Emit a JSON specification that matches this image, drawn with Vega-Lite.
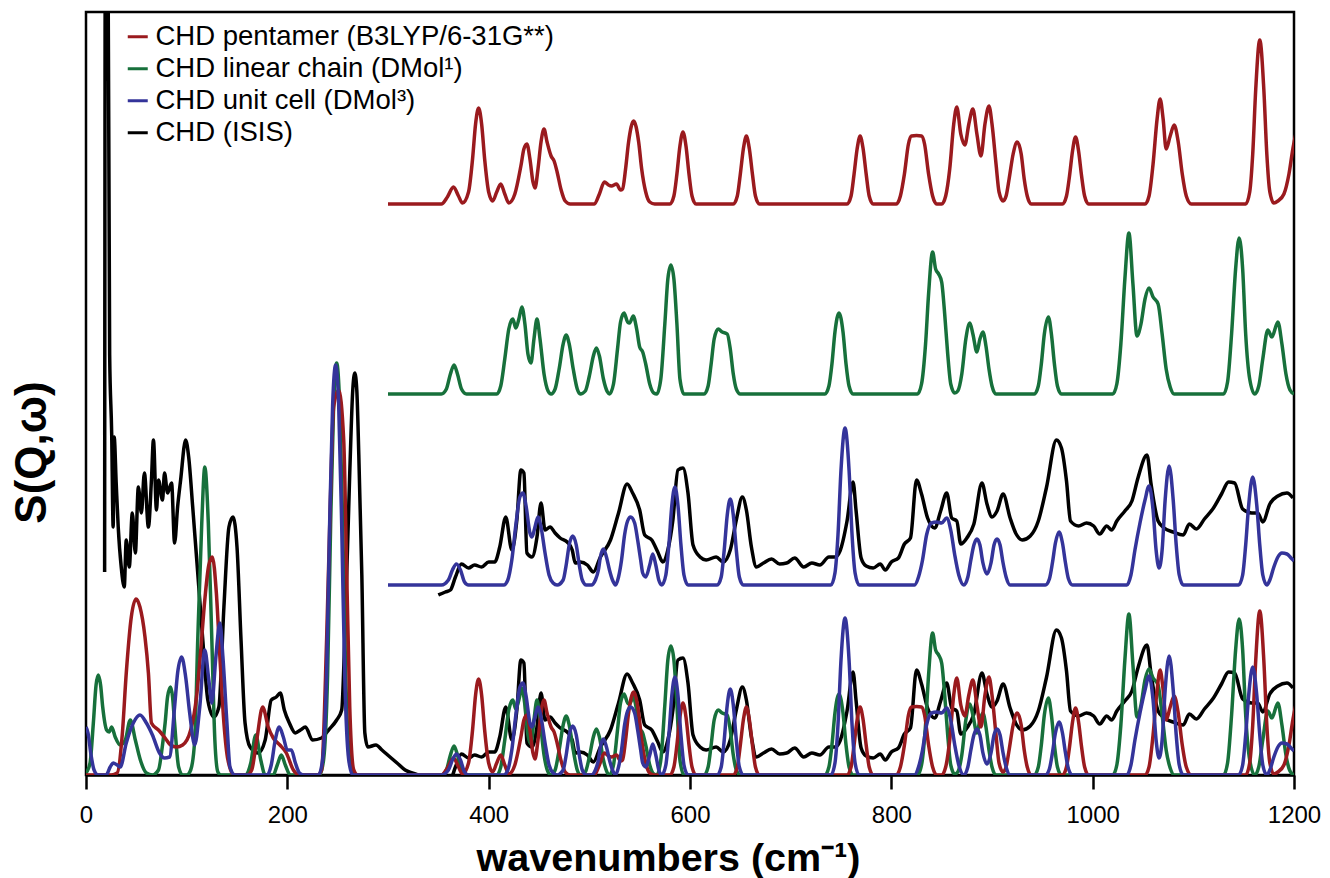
{
"$schema": "https://vega.github.io/schema/vega-lite/v6.json",
"width": 1208, "height": 763, "autosize": "none",
"padding": {"left": 86, "top": 12, "right": 36, "bottom": 103},
"background": "white",
"config": {"font": "Liberation Sans", "view": {"stroke": "black", "strokeWidth": 2.5}, "axis": {"grid": false},
  "axisX": {"ticks": true, "tickColor": "black", "tickWidth": 2.5, "tickSize": 14, "domainColor": "black", "domainWidth": 2.5,
            "labelFontSize": 24, "labelColor": "black", "labelPadding": 14, "labelFlush": false,
            "titleFontSize": 39.5, "titleFontWeight": "bold", "titleColor": "black", "titleX": 582, "titleY": 95, "titleBaseline": "alphabetic"}},
"data": {"values": [
{"s":"I","g":"IL","x":18.5,"y":203},{"s":"I","g":"IL","x":19.3,"y":900},{"s":"I","g":"IL","x":21.5,"y":900},{"s":"I","g":"IL","x":23.5,"y":420},{"s":"I","g":"IL","x":25.5,"y":342},{"s":"I","g":"IL","x":27,"y":248},{"s":"I","g":"IL","x":28,"y":338},{"s":"I","g":"IL","x":30,"y":292},{"s":"I","g":"IL","x":32,"y":248},{"s":"I","g":"IL","x":35,"y":208},{"s":"I","g":"IL","x":38,"y":188},{"s":"I","g":"IL","x":40,"y":235},{"s":"I","g":"IL","x":43,"y":208},{"s":"I","g":"IL","x":46,"y":262},{"s":"I","g":"IL","x":49,"y":222},{"s":"I","g":"IL","x":52,"y":288},{"s":"I","g":"IL","x":55,"y":262},{"s":"I","g":"IL","x":58,"y":302},{"s":"I","g":"IL","x":62,"y":248},{"s":"I","g":"IL","x":65,"y":295},{"s":"I","g":"IL","x":67,"y":335},{"s":"I","g":"IL","x":70,"y":265},{"s":"I","g":"IL","x":72,"y":295},{"s":"I","g":"IL","x":76,"y":275},{"s":"I","g":"IL","x":78,"y":302},{"s":"I","g":"IL","x":81,"y":282},{"s":"I","g":"IL","x":85,"y":292},{"s":"I","g":"IL","x":88,"y":232},{"s":"I","g":"IL","x":91,"y":268},{"s":"I","g":"IL","x":94,"y":295},{"s":"I","g":"IL","x":99,"y":335},{"s":"I","g":"IL","x":102,"y":318},{"s":"I","g":"IL","x":106,"y":268},{"s":"I","g":"IL","x":111,"y":202},{"s":"I","g":"IL","x":116,"y":135},{"s":"I","g":"IL","x":121,"y":75},{"s":"I","g":"IL","x":127,"y":58},{"s":"I","g":"IL","x":132,"y":68},{"s":"I","g":"IL","x":137,"y":168},{"s":"I","g":"IL","x":142,"y":248},{"s":"I","g":"IL","x":146,"y":258},{"s":"I","g":"IL","x":150,"y":228},{"s":"I","g":"IL","x":154,"y":135},{"s":"I","g":"IL","x":158,"y":52},{"s":"I","g":"IL","x":163,"y":28},{"s":"I","g":"IL","x":171,"y":22},{"s":"I","g":"IL","x":178,"y":35},{"s":"I","g":"IL","x":184,"y":75},{"s":"I","g":"IL","x":189,"y":78},{"s":"I","g":"IL","x":193,"y":82},{"s":"I","g":"IL","x":197,"y":65},{"s":"I","g":"IL","x":202,"y":52},{"s":"I","g":"IL","x":208,"y":42},{"s":"I","g":"IL","x":213,"y":45},{"s":"I","g":"IL","x":218,"y":48},{"s":"I","g":"IL","x":225,"y":35},{"s":"I","g":"IL","x":234,"y":37},{"s":"I","g":"IL","x":241,"y":45},{"s":"I","g":"IL","x":249,"y":55},{"s":"I","g":"IL","x":254,"y":65},{"s":"I","g":"IL","x":257,"y":135},{"s":"I","g":"IL","x":262,"y":302},{"s":"I","g":"IL","x":265,"y":385},{"s":"I","g":"IL","x":267,"y":402},{"s":"I","g":"IL","x":269,"y":385},{"s":"I","g":"IL","x":271,"y":320},{"s":"I","g":"IL","x":274,"y":200},{"s":"I","g":"IL","x":277,"y":42},{"s":"I","g":"IL","x":280,"y":28},{"s":"I","g":"IL","x":288,"y":30},{"s":"I","g":"IL","x":294,"y":25},{"s":"I","g":"IL","x":302,"y":18},{"s":"I","g":"IL","x":309,"y":12},{"s":"I","g":"IL","x":317,"y":5},{"s":"I","g":"IL","x":324,"y":2},{"s":"I","g":"IL","x":330,"y":0},
{"s":"I","g":"IH","x":350,"y":-10},{"s":"I","g":"IH","x":357,"y":-7},{"s":"I","g":"IH","x":362,"y":-5},{"s":"I","g":"IH","x":367,"y":8},{"s":"I","g":"IH","x":373,"y":21},{"s":"I","g":"IH","x":380,"y":17},{"s":"I","g":"IH","x":386,"y":20},{"s":"I","g":"IH","x":393,"y":18},{"s":"I","g":"IH","x":400,"y":23},{"s":"I","g":"IH","x":406,"y":23},{"s":"I","g":"IH","x":411,"y":38},{"s":"I","g":"IH","x":417,"y":68},{"s":"I","g":"IH","x":423,"y":35},{"s":"I","g":"IH","x":428,"y":65},{"s":"I","g":"IH","x":432,"y":115},{"s":"I","g":"IH","x":435,"y":112},{"s":"I","g":"IH","x":438,"y":32},{"s":"I","g":"IH","x":443,"y":28},{"s":"I","g":"IH","x":448,"y":48},{"s":"I","g":"IH","x":452,"y":82},{"s":"I","g":"IH","x":456,"y":55},{"s":"I","g":"IH","x":461,"y":58},{"s":"I","g":"IH","x":466,"y":52},{"s":"I","g":"IH","x":471,"y":47},{"s":"I","g":"IH","x":478,"y":43},{"s":"I","g":"IH","x":483,"y":35},{"s":"I","g":"IH","x":486,"y":22},{"s":"I","g":"IH","x":491,"y":23},{"s":"I","g":"IH","x":498,"y":20},{"s":"I","g":"IH","x":504,"y":13},{"s":"I","g":"IH","x":511,"y":28},{"s":"I","g":"IH","x":521,"y":45},{"s":"I","g":"IH","x":529,"y":72},{"s":"I","g":"IH","x":537.5,"y":101},{"s":"I","g":"IH","x":543,"y":92},{"s":"I","g":"IH","x":550,"y":75},{"s":"I","g":"IH","x":555,"y":50},{"s":"I","g":"IH","x":562,"y":45},{"s":"I","g":"IH","x":568,"y":33},{"s":"I","g":"IH","x":573,"y":23},{"s":"I","g":"IH","x":578,"y":35},{"s":"I","g":"IH","x":583,"y":65},{"s":"I","g":"IH","x":588,"y":115},{"s":"I","g":"IH","x":593,"y":117},{"s":"I","g":"IH","x":598,"y":92},{"s":"I","g":"IH","x":603,"y":40},{"s":"I","g":"IH","x":610,"y":28},{"s":"I","g":"IH","x":616,"y":25},{"s":"I","g":"IH","x":626,"y":28},{"s":"I","g":"IH","x":633,"y":23},{"s":"I","g":"IH","x":640,"y":35},{"s":"I","g":"IH","x":646,"y":65},{"s":"I","g":"IH","x":652,"y":88},{"s":"I","g":"IH","x":656,"y":75},{"s":"I","g":"IH","x":661,"y":38},{"s":"I","g":"IH","x":666,"y":18},{"s":"I","g":"IH","x":673,"y":22},{"s":"I","g":"IH","x":681,"y":26},{"s":"I","g":"IH","x":689,"y":21},{"s":"I","g":"IH","x":696,"y":22},{"s":"I","g":"IH","x":704,"y":27},{"s":"I","g":"IH","x":713,"y":18},{"s":"I","g":"IH","x":721,"y":22},{"s":"I","g":"IH","x":729,"y":20},{"s":"I","g":"IH","x":738,"y":28},{"s":"I","g":"IH","x":744,"y":28},{"s":"I","g":"IH","x":749,"y":34},{"s":"I","g":"IH","x":756,"y":64},{"s":"I","g":"IH","x":762,"y":103},{"s":"I","g":"IH","x":765,"y":74},{"s":"I","g":"IH","x":770,"y":27},{"s":"I","g":"IH","x":775,"y":19},{"s":"I","g":"IH","x":782,"y":17},{"s":"I","g":"IH","x":789,"y":21},{"s":"I","g":"IH","x":794,"y":15},{"s":"I","g":"IH","x":800,"y":23},{"s":"I","g":"IH","x":807,"y":27},{"s":"I","g":"IH","x":813,"y":41},{"s":"I","g":"IH","x":819,"y":47},{"s":"I","g":"IH","x":825,"y":105},{"s":"I","g":"IH","x":830,"y":91},{"s":"I","g":"IH","x":836,"y":67},{"s":"I","g":"IH","x":843,"y":57},{"s":"I","g":"IH","x":849,"y":74},{"s":"I","g":"IH","x":855,"y":92},{"s":"I","g":"IH","x":860,"y":67},{"s":"I","g":"IH","x":865,"y":64},{"s":"I","g":"IH","x":869,"y":41},{"s":"I","g":"IH","x":875,"y":47},{"s":"I","g":"IH","x":882,"y":61},{"s":"I","g":"IH","x":890,"y":102},{"s":"I","g":"IH","x":895,"y":81},{"s":"I","g":"IH","x":900,"y":68},{"s":"I","g":"IH","x":905,"y":74},{"s":"I","g":"IH","x":911,"y":91},{"s":"I","g":"IH","x":918,"y":67},{"s":"I","g":"IH","x":924,"y":51},{"s":"I","g":"IH","x":930,"y":45},{"s":"I","g":"IH","x":938,"y":49},{"s":"I","g":"IH","x":946,"y":64},{"s":"I","g":"IH","x":954,"y":97},{"s":"I","g":"IH","x":964,"y":145},{"s":"I","g":"IH","x":969,"y":137},{"s":"I","g":"IH","x":974,"y":104},{"s":"I","g":"IH","x":978,"y":64},{"s":"I","g":"IH","x":986,"y":59},{"s":"I","g":"IH","x":994,"y":62},{"s":"I","g":"IH","x":1001,"y":59},{"s":"I","g":"IH","x":1007,"y":51},{"s":"I","g":"IH","x":1014,"y":59},{"s":"I","g":"IH","x":1019,"y":55},{"s":"I","g":"IH","x":1024,"y":64},{"s":"I","g":"IH","x":1032,"y":74},{"s":"I","g":"IH","x":1039,"y":84},{"s":"I","g":"IH","x":1045,"y":107},{"s":"I","g":"IH","x":1054,"y":130},{"s":"I","g":"IH","x":1058,"y":101},{"s":"I","g":"IH","x":1065,"y":64},{"s":"I","g":"IH","x":1071,"y":57},{"s":"I","g":"IH","x":1080,"y":53},{"s":"I","g":"IH","x":1090,"y":50},{"s":"I","g":"IH","x":1096,"y":61},{"s":"I","g":"IH","x":1103,"y":56},{"s":"I","g":"IH","x":1111,"y":66},{"s":"I","g":"IH","x":1120,"y":77},{"s":"I","g":"IH","x":1128,"y":91},{"s":"I","g":"IH","x":1135,"y":103},{"s":"I","g":"IH","x":1141,"y":102},{"s":"I","g":"IH","x":1149,"y":76},{"s":"I","g":"IH","x":1158,"y":72},{"s":"I","g":"IH","x":1164,"y":72},{"s":"I","g":"IH","x":1169,"y":63},{"s":"I","g":"IH","x":1176,"y":81},{"s":"I","g":"IH","x":1184,"y":89},{"s":"I","g":"IH","x":1193,"y":92},{"s":"I","g":"IH","x":1199,"y":87},
{"s":"L","x":0,"y":2},{"s":"L","x":4,"y":12},{"s":"L","x":7.3,"y":52},{"s":"L","x":10,"y":90},{"s":"L","x":12.2,"y":100},{"s":"L","x":14.5,"y":90},{"s":"L","x":16.6,"y":68},{"s":"L","x":20.5,"y":45},{"s":"L","x":23,"y":43},{"s":"L","x":25.5,"y":48},{"s":"L","x":29,"y":38},{"s":"L","x":34,"y":30},{"s":"L","x":39,"y":35},{"s":"L","x":44,"y":55},{"s":"L","x":49,"y":35},{"s":"L","x":54,"y":15},{"s":"L","x":60,"y":2},{"s":"L","x":66,"y":0},{"s":"L","x":72,"y":5},{"s":"L","x":76,"y":30},{"s":"L","x":78.6,"y":52},{"s":"L","x":81,"y":78},{"s":"L","x":84,"y":88},{"s":"L","x":86,"y":78},{"s":"L","x":88,"y":52},{"s":"L","x":92,"y":8},{"s":"L","x":96,"y":0},{"s":"L","x":100,"y":0},{"s":"L","x":104,"y":5},{"s":"L","x":108,"y":35},{"s":"L","x":111,"y":135},{"s":"L","x":115,"y":252},{"s":"L","x":118,"y":308},{"s":"L","x":121.5,"y":252},{"s":"L","x":125,"y":135},{"s":"L","x":128,"y":35},{"s":"L","x":131,"y":3},{"s":"L","x":134,"y":0},{"s":"L","x":158,"y":0},{"s":"L","x":163.7,"y":12},{"s":"L","x":168.6,"y":40},{"s":"L","x":173.6,"y":15},{"s":"L","x":178,"y":0},{"s":"L","x":186,"y":0},{"s":"L","x":190,"y":10},{"s":"L","x":194,"y":20},{"s":"L","x":198,"y":10},{"s":"L","x":203,"y":0},{"s":"L","x":232,"y":0},{"s":"L","x":236,"y":15},{"s":"L","x":240,"y":100},{"s":"L","x":243,"y":250},{"s":"L","x":246,"y":370},{"s":"L","x":249,"y":412},{"s":"L","x":252,"y":370},{"s":"L","x":255,"y":250},{"s":"L","x":258,"y":100},{"s":"L","x":262,"y":15},{"s":"L","x":266,"y":0},
{"s":"L","x":300,"y":0},{"s":"L","x":353,"y":0},{"s":"L","x":358,"y":5},{"s":"L","x":362,"y":20},{"s":"L","x":365.6,"y":29},{"s":"L","x":369,"y":20},{"s":"L","x":373,"y":5},{"s":"L","x":378,"y":0},{"s":"L","x":408,"y":0},{"s":"L","x":412,"y":8},{"s":"L","x":416,"y":35},{"s":"L","x":420,"y":65},{"s":"L","x":424,"y":75},{"s":"L","x":427,"y":66},{"s":"L","x":430,"y":75},{"s":"L","x":433,"y":87},{"s":"L","x":436,"y":70},{"s":"L","x":439,"y":40},{"s":"L","x":442,"y":31},{"s":"L","x":445,"y":55},{"s":"L","x":448,"y":75},{"s":"L","x":451,"y":55},{"s":"L","x":455,"y":20},{"s":"L","x":459,"y":3},{"s":"L","x":462,"y":0},{"s":"L","x":466,"y":5},{"s":"L","x":470,"y":25},{"s":"L","x":474,"y":50},{"s":"L","x":477,"y":59},{"s":"L","x":480,"y":50},{"s":"L","x":484,"y":25},{"s":"L","x":488,"y":5},{"s":"L","x":491,"y":0},{"s":"L","x":496,"y":3},{"s":"L","x":500,"y":18},{"s":"L","x":504,"y":38},{"s":"L","x":507,"y":46},{"s":"L","x":510,"y":38},{"s":"L","x":514,"y":15},{"s":"L","x":518,"y":2},{"s":"L","x":520,"y":0},{"s":"L","x":524,"y":10},{"s":"L","x":528,"y":45},{"s":"L","x":531,"y":72},{"s":"L","x":534.5,"y":81},{"s":"L","x":538,"y":72},{"s":"L","x":540,"y":71},{"s":"L","x":543.6,"y":78},{"s":"L","x":547,"y":65},{"s":"L","x":550,"y":47},{"s":"L","x":553,"y":42},{"s":"L","x":556,"y":30},{"s":"L","x":560,"y":10},{"s":"L","x":564,"y":1},{"s":"L","x":567,"y":0},{"s":"L","x":571,"y":15},{"s":"L","x":575,"y":70},{"s":"L","x":578,"y":115},{"s":"L","x":581,"y":129},{"s":"L","x":584,"y":115},{"s":"L","x":587,"y":70},{"s":"L","x":590,"y":15},{"s":"L","x":594,"y":0},{"s":"L","x":614,"y":0},{"s":"L","x":618,"y":8},{"s":"L","x":621,"y":30},{"s":"L","x":624,"y":55},{"s":"L","x":628,"y":65},{"s":"L","x":632,"y":62},{"s":"L","x":637,"y":60},{"s":"L","x":640,"y":45},{"s":"L","x":643,"y":20},{"s":"L","x":646,"y":5},{"s":"L","x":650,"y":0},{"s":"L","x":734,"y":0},{"s":"L","x":738,"y":8},{"s":"L","x":741,"y":30},{"s":"L","x":744,"y":62},{"s":"L","x":748,"y":81},{"s":"L","x":752,"y":62},{"s":"L","x":755,"y":30},{"s":"L","x":758,"y":8},{"s":"L","x":762,"y":0},{"s":"L","x":826,"y":0},{"s":"L","x":830,"y":10},{"s":"L","x":834,"y":50},{"s":"L","x":837,"y":100},{"s":"L","x":841,"y":142},{"s":"L","x":844,"y":125},{"s":"L","x":847,"y":120},{"s":"L","x":850,"y":112},{"s":"L","x":853,"y":80},{"s":"L","x":856,"y":40},{"s":"L","x":859,"y":10},{"s":"L","x":863,"y":1},{"s":"L","x":866,"y":3},{"s":"L","x":870,"y":20},{"s":"L","x":874,"y":55},{"s":"L","x":878,"y":71},{"s":"L","x":881,"y":60},{"s":"L","x":885,"y":42},{"s":"L","x":888,"y":55},{"s":"L","x":891,"y":62},{"s":"L","x":894,"y":48},{"s":"L","x":897,"y":25},{"s":"L","x":900,"y":8},{"s":"L","x":904,"y":0},{"s":"L","x":942,"y":0},{"s":"L","x":946,"y":8},{"s":"L","x":949,"y":30},{"s":"L","x":952,"y":60},{"s":"L","x":956,"y":77},{"s":"L","x":959,"y":60},{"s":"L","x":962,"y":30},{"s":"L","x":965,"y":8},{"s":"L","x":969,"y":0},{"s":"L","x":1020,"y":0},{"s":"L","x":1024,"y":10},{"s":"L","x":1028,"y":50},{"s":"L","x":1032,"y":115},{"s":"L","x":1036,"y":161},{"s":"L","x":1040,"y":110},{"s":"L","x":1044,"y":58},{"s":"L","x":1048,"y":70},{"s":"L","x":1052,"y":95},{"s":"L","x":1056,"y":106},{"s":"L","x":1060,"y":97},{"s":"L","x":1065,"y":90},{"s":"L","x":1069,"y":60},{"s":"L","x":1073,"y":25},{"s":"L","x":1077,"y":7},{"s":"L","x":1081,"y":0},{"s":"L","x":1130,"y":0},{"s":"L","x":1134,"y":12},{"s":"L","x":1138,"y":60},{"s":"L","x":1142,"y":125},{"s":"L","x":1145.5,"y":156},{"s":"L","x":1149,"y":125},{"s":"L","x":1152,"y":60},{"s":"L","x":1156,"y":15},{"s":"L","x":1161,"y":0},{"s":"L","x":1165,"y":8},{"s":"L","x":1169,"y":35},{"s":"L","x":1174,"y":64},{"s":"L","x":1178,"y":57},{"s":"L","x":1184,"y":72},{"s":"L","x":1188,"y":50},{"s":"L","x":1192,"y":20},{"s":"L","x":1196,"y":4},{"s":"L","x":1200,"y":0},
{"s":"P","x":0,"y":0},{"s":"P","x":25,"y":0},{"s":"P","x":31,"y":2},{"s":"P","x":36,"y":40},{"s":"P","x":40,"y":102},{"s":"P","x":45,"y":158},{"s":"P","x":49.7,"y":176},{"s":"P","x":53.6,"y":168},{"s":"P","x":58.6,"y":138},{"s":"P","x":62,"y":102},{"s":"P","x":65,"y":52},{"s":"P","x":72,"y":45},{"s":"P","x":78.6,"y":37},{"s":"P","x":84,"y":30},{"s":"P","x":90,"y":28},{"s":"P","x":96,"y":30},{"s":"P","x":104,"y":45},{"s":"P","x":110,"y":80},{"s":"P","x":114,"y":125},{"s":"P","x":118,"y":175},{"s":"P","x":122,"y":210},{"s":"P","x":125.5,"y":218},{"s":"P","x":129.5,"y":182},{"s":"P","x":133,"y":118},{"s":"P","x":137,"y":52},{"s":"P","x":141,"y":15},{"s":"P","x":147,"y":0},{"s":"P","x":160,"y":0},{"s":"P","x":164.6,"y":5},{"s":"P","x":169.6,"y":35},{"s":"P","x":175.5,"y":68},{"s":"P","x":181,"y":48},{"s":"P","x":186,"y":37},{"s":"P","x":192.6,"y":30},{"s":"P","x":199,"y":22},{"s":"P","x":206,"y":5},{"s":"P","x":212,"y":0},{"s":"P","x":230,"y":0},{"s":"P","x":234,"y":5},{"s":"P","x":239,"y":135},{"s":"P","x":242.6,"y":268},{"s":"P","x":246,"y":368},{"s":"P","x":251,"y":385},{"s":"P","x":256,"y":335},{"s":"P","x":259,"y":202},{"s":"P","x":262,"y":68},{"s":"P","x":266,"y":5},{"s":"P","x":270,"y":0},
{"s":"P","x":300,"y":0},{"s":"P","x":353,"y":0},{"s":"P","x":359,"y":7},{"s":"P","x":365,"y":17},{"s":"P","x":370,"y":8},{"s":"P","x":374,"y":1},{"s":"P","x":380,"y":12},{"s":"P","x":384,"y":45},{"s":"P","x":387,"y":80},{"s":"P","x":390,"y":96},{"s":"P","x":393,"y":80},{"s":"P","x":396,"y":45},{"s":"P","x":400,"y":12},{"s":"P","x":404,"y":3},{"s":"P","x":408,"y":12},{"s":"P","x":412,"y":20},{"s":"P","x":416,"y":10},{"s":"P","x":420,"y":1},{"s":"P","x":426,"y":10},{"s":"P","x":432,"y":38},{"s":"P","x":435,"y":55},{"s":"P","x":438,"y":60},{"s":"P","x":441,"y":45},{"s":"P","x":444,"y":22},{"s":"P","x":446,"y":16},{"s":"P","x":449,"y":35},{"s":"P","x":452,"y":62},{"s":"P","x":455,"y":75},{"s":"P","x":458,"y":62},{"s":"P","x":462,"y":48},{"s":"P","x":465,"y":43},{"s":"P","x":468,"y":32},{"s":"P","x":472,"y":14},{"s":"P","x":476,"y":3},{"s":"P","x":481,"y":0},{"s":"P","x":505,"y":0},{"s":"P","x":510,"y":10},{"s":"P","x":515,"y":22},{"s":"P","x":519,"y":19},{"s":"P","x":522,"y":18},{"s":"P","x":527,"y":20},{"s":"P","x":531,"y":14},{"s":"P","x":533,"y":15},{"s":"P","x":536,"y":35},{"s":"P","x":539,"y":62},{"s":"P","x":544,"y":83},{"s":"P","x":549,"y":62},{"s":"P","x":552,"y":35},{"s":"P","x":556,"y":12},{"s":"P","x":560,"y":2},{"s":"P","x":565,"y":0},{"s":"P","x":580,"y":0},{"s":"P","x":584,"y":8},{"s":"P","x":587,"y":30},{"s":"P","x":590,"y":58},{"s":"P","x":593,"y":72},{"s":"P","x":596,"y":58},{"s":"P","x":599,"y":30},{"s":"P","x":602,"y":8},{"s":"P","x":606,"y":0},{"s":"P","x":643,"y":0},{"s":"P","x":647,"y":8},{"s":"P","x":650,"y":30},{"s":"P","x":653,"y":55},{"s":"P","x":656,"y":68},{"s":"P","x":659,"y":55},{"s":"P","x":662,"y":30},{"s":"P","x":665,"y":8},{"s":"P","x":669,"y":0},{"s":"P","x":756,"y":0},{"s":"P","x":760,"y":8},{"s":"P","x":763,"y":30},{"s":"P","x":766,"y":55},{"s":"P","x":769,"y":68},{"s":"P","x":772,"y":55},{"s":"P","x":775,"y":30},{"s":"P","x":778,"y":8},{"s":"P","x":782,"y":0},{"s":"P","x":805,"y":0},{"s":"P","x":809,"y":8},{"s":"P","x":813,"y":30},{"s":"P","x":817,"y":60},{"s":"P","x":820,"y":68},{"s":"P","x":825,"y":68.5},{"s":"P","x":830,"y":68},{"s":"P","x":833,"y":60},{"s":"P","x":837,"y":30},{"s":"P","x":841,"y":8},{"s":"P","x":845,"y":0},{"s":"P","x":850,"y":0},{"s":"P","x":854,"y":8},{"s":"P","x":858,"y":35},{"s":"P","x":862,"y":80},{"s":"P","x":865,"y":97},{"s":"P","x":869,"y":70},{"s":"P","x":873,"y":59},{"s":"P","x":877,"y":80},{"s":"P","x":881,"y":95},{"s":"P","x":885,"y":70},{"s":"P","x":889,"y":48},{"s":"P","x":893,"y":80},{"s":"P","x":897,"y":98},{"s":"P","x":900,"y":80},{"s":"P","x":904,"y":40},{"s":"P","x":907,"y":12},{"s":"P","x":911,"y":3},{"s":"P","x":914,"y":8},{"s":"P","x":917,"y":25},{"s":"P","x":921,"y":50},{"s":"P","x":925,"y":62},{"s":"P","x":929,"y":50},{"s":"P","x":932,"y":25},{"s":"P","x":935,"y":8},{"s":"P","x":939,"y":0},{"s":"P","x":970,"y":0},{"s":"P","x":974,"y":8},{"s":"P","x":977,"y":28},{"s":"P","x":980,"y":53},{"s":"P","x":983,"y":67},{"s":"P","x":986,"y":53},{"s":"P","x":989,"y":28},{"s":"P","x":992,"y":8},{"s":"P","x":996,"y":0},{"s":"P","x":1052,"y":0},{"s":"P","x":1056,"y":8},{"s":"P","x":1060,"y":40},{"s":"P","x":1064,"y":85},{"s":"P","x":1067,"y":105},{"s":"P","x":1070,"y":85},{"s":"P","x":1073,"y":55},{"s":"P","x":1077,"y":68},{"s":"P","x":1081,"y":79},{"s":"P","x":1085,"y":62},{"s":"P","x":1089,"y":30},{"s":"P","x":1093,"y":8},{"s":"P","x":1098,"y":0},{"s":"P","x":1152,"y":0},{"s":"P","x":1156,"y":12},{"s":"P","x":1159,"y":50},{"s":"P","x":1162,"y":115},{"s":"P","x":1166,"y":164},{"s":"P","x":1170,"y":115},{"s":"P","x":1173,"y":50},{"s":"P","x":1176,"y":12},{"s":"P","x":1180,"y":1},{"s":"P","x":1184,"y":3},{"s":"P","x":1190,"y":10},{"s":"P","x":1195,"y":30},{"s":"P","x":1199,"y":56},{"s":"P","x":1203,"y":75},
{"s":"U","x":0,"y":48},{"s":"U","x":2,"y":42},{"s":"U","x":5,"y":20},{"s":"U","x":8,"y":5},{"s":"U","x":12,"y":0},{"s":"U","x":20,"y":0},{"s":"U","x":24,"y":8},{"s":"U","x":27,"y":12},{"s":"U","x":31,"y":10},{"s":"U","x":34,"y":8},{"s":"U","x":40,"y":32},{"s":"U","x":47,"y":52},{"s":"U","x":53.6,"y":60},{"s":"U","x":60,"y":52},{"s":"U","x":66,"y":40},{"s":"U","x":73,"y":22},{"s":"U","x":78,"y":17},{"s":"U","x":83,"y":18},{"s":"U","x":88,"y":68},{"s":"U","x":91,"y":102},{"s":"U","x":95,"y":118},{"s":"U","x":99,"y":98},{"s":"U","x":103,"y":62},{"s":"U","x":108,"y":30},{"s":"U","x":113,"y":68},{"s":"U","x":118,"y":125},{"s":"U","x":122,"y":95},{"s":"U","x":125,"y":72},{"s":"U","x":129,"y":118},{"s":"U","x":133,"y":152},{"s":"U","x":136,"y":118},{"s":"U","x":140,"y":52},{"s":"U","x":143,"y":8},{"s":"U","x":148,"y":0},{"s":"U","x":180,"y":0},{"s":"U","x":184,"y":10},{"s":"U","x":188,"y":35},{"s":"U","x":192,"y":48},{"s":"U","x":196,"y":38},{"s":"U","x":200,"y":25},{"s":"U","x":204,"y":25},{"s":"U","x":208,"y":12},{"s":"U","x":212,"y":2},{"s":"U","x":216,"y":0},{"s":"U","x":231,"y":0},{"s":"U","x":235,"y":15},{"s":"U","x":239,"y":100},{"s":"U","x":242,"y":250},{"s":"U","x":245,"y":370},{"s":"U","x":248,"y":410},{"s":"U","x":251,"y":370},{"s":"U","x":254,"y":250},{"s":"U","x":257,"y":100},{"s":"U","x":261,"y":15},{"s":"U","x":265,"y":0},
{"s":"U","x":300,"y":0},{"s":"U","x":353,"y":0},{"s":"U","x":360,"y":5},{"s":"U","x":364,"y":15},{"s":"U","x":368,"y":21},{"s":"U","x":372,"y":15},{"s":"U","x":376,"y":3},{"s":"U","x":380,"y":0},{"s":"U","x":415,"y":0},{"s":"U","x":419,"y":5},{"s":"U","x":423,"y":25},{"s":"U","x":427,"y":60},{"s":"U","x":431,"y":88},{"s":"U","x":434,"y":92},{"s":"U","x":437,"y":80},{"s":"U","x":441,"y":52},{"s":"U","x":443,"y":48},{"s":"U","x":446,"y":58},{"s":"U","x":449,"y":68},{"s":"U","x":452,"y":58},{"s":"U","x":456,"y":32},{"s":"U","x":460,"y":10},{"s":"U","x":464,"y":2},{"s":"U","x":468,"y":0},{"s":"U","x":474,"y":5},{"s":"U","x":477,"y":20},{"s":"U","x":480,"y":40},{"s":"U","x":483.5,"y":49},{"s":"U","x":487,"y":40},{"s":"U","x":490,"y":20},{"s":"U","x":493,"y":5},{"s":"U","x":497,"y":0},{"s":"U","x":502,"y":0},{"s":"U","x":506,"y":5},{"s":"U","x":509,"y":15},{"s":"U","x":511,"y":28},{"s":"U","x":514,"y":36},{"s":"U","x":517,"y":28},{"s":"U","x":520,"y":15},{"s":"U","x":523,"y":5},{"s":"U","x":526,"y":0},{"s":"U","x":529,"y":8},{"s":"U","x":532,"y":25},{"s":"U","x":535,"y":50},{"s":"U","x":538,"y":64},{"s":"U","x":541,"y":68},{"s":"U","x":545,"y":62},{"s":"U","x":548,"y":45},{"s":"U","x":551,"y":25},{"s":"U","x":553,"y":12},{"s":"U","x":556,"y":8},{"s":"U","x":560,"y":20},{"s":"U","x":563,"y":31},{"s":"U","x":566,"y":20},{"s":"U","x":569,"y":5},{"s":"U","x":572,"y":0},{"s":"U","x":576,"y":10},{"s":"U","x":579,"y":40},{"s":"U","x":582,"y":80},{"s":"U","x":585,"y":98},{"s":"U","x":588,"y":80},{"s":"U","x":591,"y":40},{"s":"U","x":594,"y":10},{"s":"U","x":598,"y":0},{"s":"U","x":627,"y":0},{"s":"U","x":631,"y":8},{"s":"U","x":634,"y":35},{"s":"U","x":637,"y":70},{"s":"U","x":640,"y":86},{"s":"U","x":643,"y":70},{"s":"U","x":646,"y":35},{"s":"U","x":649,"y":8},{"s":"U","x":653,"y":0},{"s":"U","x":740,"y":0},{"s":"U","x":744,"y":12},{"s":"U","x":747,"y":50},{"s":"U","x":750,"y":115},{"s":"U","x":754,"y":157},{"s":"U","x":758,"y":115},{"s":"U","x":761,"y":50},{"s":"U","x":764,"y":12},{"s":"U","x":768,"y":0},{"s":"U","x":823,"y":0},{"s":"U","x":827,"y":8},{"s":"U","x":831,"y":25},{"s":"U","x":835,"y":50},{"s":"U","x":840,"y":62},{"s":"U","x":845,"y":63},{"s":"U","x":850,"y":62},{"s":"U","x":855,"y":67},{"s":"U","x":859,"y":55},{"s":"U","x":863,"y":30},{"s":"U","x":867,"y":10},{"s":"U","x":872,"y":0},{"s":"U","x":876,"y":8},{"s":"U","x":879,"y":25},{"s":"U","x":882,"y":40},{"s":"U","x":885,"y":46},{"s":"U","x":888,"y":40},{"s":"U","x":891,"y":22},{"s":"U","x":895,"y":11},{"s":"U","x":899,"y":22},{"s":"U","x":902,"y":40},{"s":"U","x":905,"y":46},{"s":"U","x":908,"y":40},{"s":"U","x":911,"y":22},{"s":"U","x":914,"y":8},{"s":"U","x":918,"y":0},{"s":"U","x":953,"y":0},{"s":"U","x":957,"y":6},{"s":"U","x":960,"y":22},{"s":"U","x":963,"y":42},{"s":"U","x":966.6,"y":53},{"s":"U","x":970,"y":42},{"s":"U","x":973,"y":22},{"s":"U","x":976,"y":6},{"s":"U","x":980,"y":0},{"s":"U","x":1034,"y":0},{"s":"U","x":1038,"y":10},{"s":"U","x":1042,"y":35},{"s":"U","x":1047,"y":62},{"s":"U","x":1052,"y":85},{"s":"U","x":1056,"y":99},{"s":"U","x":1060,"y":75},{"s":"U","x":1063,"y":35},{"s":"U","x":1066,"y":17},{"s":"U","x":1069,"y":35},{"s":"U","x":1072,"y":85},{"s":"U","x":1076,"y":119},{"s":"U","x":1080,"y":85},{"s":"U","x":1083,"y":40},{"s":"U","x":1086,"y":10},{"s":"U","x":1090,"y":0},{"s":"U","x":1145,"y":0},{"s":"U","x":1149,"y":10},{"s":"U","x":1152,"y":40},{"s":"U","x":1155,"y":80},{"s":"U","x":1159,"y":108},{"s":"U","x":1163,"y":80},{"s":"U","x":1166,"y":40},{"s":"U","x":1169,"y":10},{"s":"U","x":1173,"y":0},{"s":"U","x":1176,"y":5},{"s":"U","x":1180,"y":18},{"s":"U","x":1184,"y":28},{"s":"U","x":1188,"y":32},{"s":"U","x":1193,"y":31},{"s":"U","x":1197,"y":27},{"s":"U","x":1200,"y":24}
]},
"layer": [
{"mark": {"type": "line", "interpolate": "monotone", "clip": true, "strokeWidth": 3.5},
 "encoding": {
  "x": {"field": "x", "type": "quantitative", "scale": {"domain": [0, 1200], "nice": false}, "title": "wavenumbers (cm⁻¹)",
        "axis": {"values": [0,200,400,600,800,1000,1200], "format": "d"}},
  "y": {"field": "y", "type": "quantitative", "scale": {"domain": [0, 763], "nice": false, "zero": false},
        "axis": {"title": "S(Q,ω)", "domain": false, "ticks": false, "labels": false, "grid": false,
                 "titleFontSize": 44, "titleFontWeight": "bold", "titleColor": "black", "titleX": -54, "titleY": 440, "titleBaseline": "middle", "titleAngle": -90}},
  "color": {"field": "s", "type": "nominal",
            "scale": {"domain": ["P","L","U","I"], "range": ["#9a1a1e","#17703b","#34349a","#000000"]},
            "legend": {"orient": "none", "legendX": 38, "legendY": 11, "title": null, "symbolType": "stroke", "symbolSize": 400, "symbolStrokeWidth": 3,
                       "labelFontSize": 27.5, "labelColor": "black", "labelOffset": 4, "rowPadding": 3, "labelLimit": 600,
                       "labelExpr": "datum.label == 'P' ? 'CHD pentamer (B3LYP/6-31G**)' : datum.label == 'L' ? 'CHD linear chain (DMol¹)' : datum.label == 'U' ? 'CHD unit cell (DMol³)' : 'CHD (ISIS)'"}},
  "detail": {"field": "g"}
 }},
{"transform": [{"filter": "(datum.s == 'U' && datum.x >= 300) || datum.g == 'IH'"}],
 "mark": {"type": "line", "interpolate": "monotone", "clip": true, "strokeWidth": 3.5},
 "encoding": {
  "x": {"field": "x", "type": "quantitative", "axis": {"values": [0,200,400,600,800,1000,1200], "format": "d"}},
  "y": {"field": "y", "type": "quantitative", "scale": {"domain": [-190, 573], "nice": false, "zero": false}, "axis": null},
  "color": {"field": "s", "type": "nominal"},
  "detail": {"field": "g"}
 }},
{"transform": [{"filter": "datum.s == 'L' && datum.x >= 300"}],
 "mark": {"type": "line", "interpolate": "monotone", "clip": true, "strokeWidth": 3.5},
 "encoding": {
  "x": {"field": "x", "type": "quantitative", "axis": {"values": [0,200,400,600,800,1000,1200], "format": "d"}},
  "y": {"field": "y", "type": "quantitative", "scale": {"domain": [-381, 382], "nice": false, "zero": false}, "axis": null},
  "color": {"field": "s", "type": "nominal"}
 }},
{"transform": [{"filter": "datum.s == 'P' && datum.x >= 300"}],
 "mark": {"type": "line", "interpolate": "monotone", "clip": true, "strokeWidth": 3.5},
 "encoding": {
  "x": {"field": "x", "type": "quantitative", "axis": {"values": [0,200,400,600,800,1000,1200], "format": "d"}},
  "y": {"field": "y", "type": "quantitative", "scale": {"domain": [-571, 192], "nice": false, "zero": false}, "axis": null},
  "color": {"field": "s", "type": "nominal"}
 }}
],
"resolve": {"scale": {"y": "independent"}}
}
